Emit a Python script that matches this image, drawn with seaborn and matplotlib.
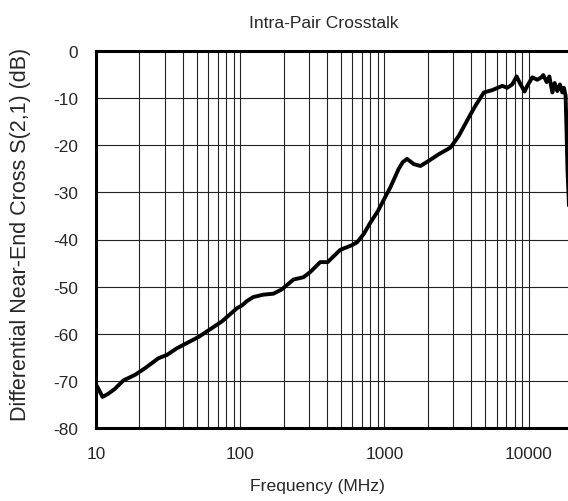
import numpy as np
import pandas as pd
import matplotlib
matplotlib.use("Agg")
import matplotlib.pyplot as plt
import seaborn as sns
from matplotlib.ticker import LogLocator, FixedLocator, FixedFormatter, NullFormatter

# values
freq_mhz = [10.0, 10.4, 11.1, 12.2, 13.5, 15.5, 18.7, 21.9, 27.1, 31.0, 36.3, 51.3, 74.6,
            94.8, 102.8, 112, 123.6, 145, 170, 194, 234, 275, 306, 359, 404, 494, 596, 646,
            720, 800, 900, 989, 1101, 1257, 1340, 1437, 1600, 1778, 2031, 2384, 2872, 3281,
            3849, 4300, 4645, 4893, 5598, 6564, 7111, 7701, 8255, 8799, 9380, 9790, 10610,
            11490, 12250, 12650, 13340, 13930, 14620, 15160, 15820, 16490, 17130, 17570,
            18060, 18300, 18600, 19500]
sdd21_db = [-70.8, -71.7, -73.4, -72.7, -71.7, -69.9, -68.7, -67.3, -65.2, -64.5, -63.1, -60.7,
            -57.4, -54.6, -54.0, -53.0, -52.2, -51.7, -51.5, -50.6, -48.5, -48.0, -46.9, -44.8,
            -44.8, -42.2, -41.2, -40.6, -38.8, -36.4, -34.0, -31.6, -28.9, -25.0, -23.6, -22.9,
            -24.0, -24.4, -23.3, -21.9, -20.5, -18.0, -14.1, -11.5, -9.9, -8.8, -8.3, -7.4,
            -7.8, -7.1, -5.4, -7.1, -8.6, -7.4, -5.6, -6.1, -5.6, -5.1, -6.6, -5.4, -8.8, -6.8,
            -8.5, -7.1, -8.8, -7.8, -9.5, -16.0, -25.0, -40.0]

df = pd.DataFrame({"freq": freq_mhz, "db": sdd21_db})

sns.set_style("white")
plt.rcParams["font.family"] = ["Liberation Sans", "DejaVu Sans"]
plt.rcParams["axes.unicode_minus"] = False

fig = plt.figure(figsize=(5.68, 5.02), dpi=100)
ax = fig.add_axes([96 / 568, 73 / 502, 476 / 568, 377 / 502])

sns.lineplot(x="freq", y="db", data=df, color="black", linewidth=2.8, ax=ax)
ax.lines[0].set_solid_joinstyle("round")

ax.set_xscale("log")
ax.set_xlim(10, 20000)
ax.set_ylim(-80, 0)
ax.xaxis.set_major_locator(FixedLocator([10, 100, 1000, 10000]))
ax.xaxis.set_major_formatter(FixedFormatter(["10", "100", "1000", "10000"]))
ax.xaxis.set_minor_locator(LogLocator(base=10, subs=np.arange(2, 10)))
ax.xaxis.set_minor_formatter(NullFormatter())
ax.set_yticks(range(-80, 1, 10))

ax.grid(True, which="both", axis="x", color="#222222", linewidth=0.8)
ax.grid(True, which="major", axis="y", color="#222222", linewidth=0.8)
ax.tick_params(which="both", length=0, labelsize=12.4, pad=13)

for side in ["left", "bottom", "top"]:
    ax.spines[side].set_color("black")
    ax.spines[side].set_linewidth(2.2)
ax.spines["right"].set_visible(False)

ax.set_title("Intra-Pair Crosstalk", fontsize=12.6, pad=17, x=0.478)
ax.set_xlabel("Frequency (MHz)", fontsize=12.6, labelpad=12)
ax.xaxis.label.set_x(0.466)
ax.set_ylabel("Differential Near-End Cross S(2,1) (dB)", fontsize=15.5)
ax.yaxis.set_label_coords(-0.137, 0.515)

fig.savefig("out.png", dpi=100)
